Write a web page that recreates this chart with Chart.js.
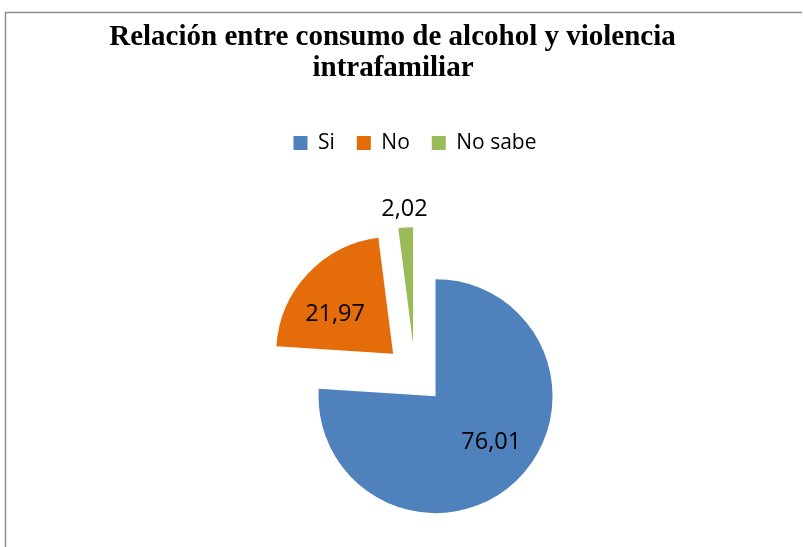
<!DOCTYPE html>
<html>
<head>
<meta charset="utf-8">
<script src="https://cdn.jsdelivr.net/npm/chart.js@4"></script>
<style>
  html, body { margin: 0; padding: 0; background: #fff; }
  #wrap { width: 803px; height: 547px; }
</style>
</head>
<body>
<div id="wrap"><canvas id="pie"></canvas></div>
<script>
var titleLines = ['Relación entre consumo de alcohol y violencia', 'intrafamiliar'];
var categories = ['Si', 'No', 'No sabe'];
var values = [76.01, 21.97, 2.02];
var colors = ['#4F81BD', '#E46C0A', '#9BBB59'];

// how far every slice is pulled out, and where its label sits
var explode = 30;
var labelRadius = [0.62, 0.6, 1.16];
var labelTurn = [-7, -9, 0];

function fmt(v) {
	return v.toFixed(2).replace('.', ',');
}

var framePlugin = {
	id: 'frame',
	beforeDraw: function(chart) {
		var ctx = chart.ctx;
		ctx.save();
		ctx.strokeStyle = '#8E8E8E';
		ctx.lineWidth = 1.5;
		ctx.beginPath();
		ctx.moveTo(5.5, chart.height + 2);
		ctx.lineTo(5.5, 12.5);
		ctx.lineTo(chart.width - 1, 12.5);
		ctx.stroke();
		ctx.fillStyle = '#000';
		ctx.font = 'bold 29px "Liberation Serif", "Times New Roman", serif';
		ctx.textAlign = 'center';
		ctx.textBaseline = 'alphabetic';
		ctx.fillText(titleLines[0], 392.5, 44.5);
		ctx.fillText(titleLines[1], 393, 76);
		ctx.restore();
	}
};

var explodePlugin = {
	id: 'explode',
	beforeDatasetDraw: function(chart, args) {
		var ctx = chart.ctx;
		args.meta.data.forEach(function(arc) {
			var mid = (arc.startAngle + arc.endAngle) / 2;
			ctx.save();
			ctx.translate(Math.cos(mid) * explode, Math.sin(mid) * explode);
			arc.draw(ctx);
			ctx.restore();
		});
		return false;
	}
};

var labelPlugin = {
	id: 'sliceLabels',
	afterDatasetsDraw: function(chart) {
		var ctx = chart.ctx;
		var meta = chart.getDatasetMeta(0);
		ctx.save();
		ctx.fillStyle = '#000';
		ctx.font = '23.5px "Open Sans", sans-serif';
		ctx.textAlign = 'center';
		ctx.textBaseline = 'middle';
		meta.data.forEach(function(arc, i) {
			var mid = (arc.startAngle + arc.endAngle) / 2;
			var cx = arc.x + Math.cos(mid) * explode;
			var cy = arc.y + Math.sin(mid) * explode;
			var a = mid + labelTurn[i] * Math.PI / 180;
			var r = arc.outerRadius * labelRadius[i];
			ctx.fillText(fmt(values[i]), cx + Math.cos(a) * r, cy + Math.sin(a) * r);
		});
		ctx.restore();
	}
};

var config = {
	type: 'pie',
	data: {
		labels: categories,
		datasets: [{
			data: values,
			backgroundColor: colors,
			borderWidth: 0,
			offset: 0,
			radius: 117
		}]
	},
	options: {
		responsive: true,
		maintainAspectRatio: false,
		animation: false,
		events: [],
		layout: {
			padding: { top: 110.5, left: 27, right: 0, bottom: 0 }
		},
		plugins: {
			legend: {
				display: true,
				position: 'top',
				labels: {
					boxWidth: 14,
					boxHeight: 14,
					padding: 22,
					color: '#000',
					font: { family: '"Open Sans", sans-serif', size: 21 }
				}
			},
			// empty box under the legend, only to push the pie down
			subtitle: {
				display: true,
				text: '',
				position: 'top',
				weight: 500,
				font: { size: 10 },
				padding: { top: 0, bottom: 26 }
			},
			title: { display: false },
			tooltip: { enabled: false }
		}
	},
	plugins: [framePlugin, explodePlugin, labelPlugin]
};

window.onload = function() {
	var ctx = document.getElementById('pie').getContext('2d');
	window.myPie = new Chart(ctx, config);
};
</script>
</body>
</html>
